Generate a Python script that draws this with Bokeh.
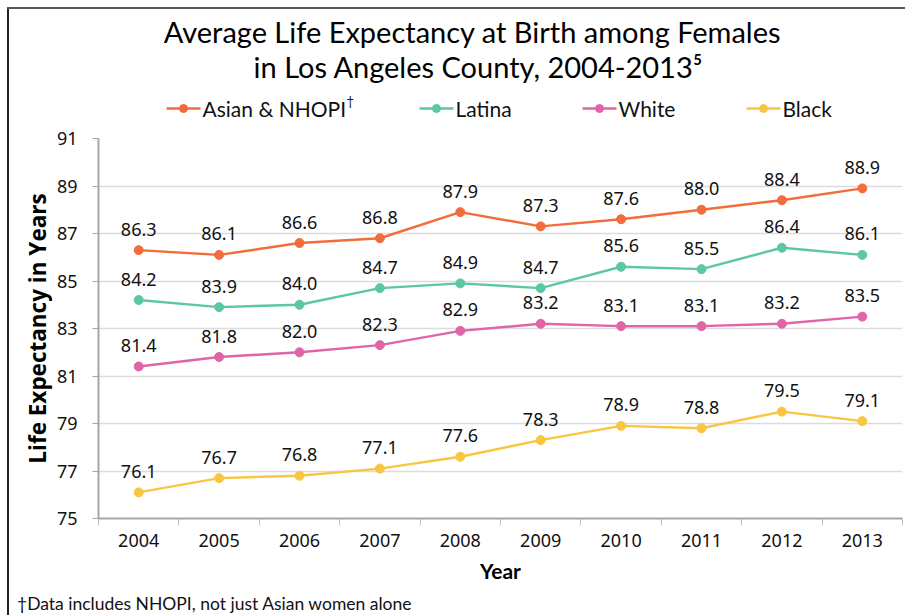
from bokeh.plotting import figure
from bokeh.models import Range1d, FixedTicker, Div
from bokeh.layouts import column
from bokeh.embed import file_html
from bokeh.resources import INLINE
from bokeh.core.properties import value

years = [2004, 2005, 2006, 2007, 2008, 2009, 2010, 2011, 2012, 2013]
asian = [86.3, 86.1, 86.6, 86.8, 87.9, 87.3, 87.6, 88.0, 88.4, 88.9]
latina = [84.2, 83.9, 84.0, 84.7, 84.9, 84.7, 85.6, 85.5, 86.4, 86.1]
white = [81.4, 81.8, 82.0, 82.3, 82.9, 83.2, 83.1, 83.1, 83.2, 83.5]
black = [76.1, 76.7, 76.8, 77.1, 77.6, 78.3, 78.9, 78.8, 79.5, 79.1]
series_names = ["Asian & NHOPI", "Latina", "White", "Black"]
series_values = [asian, latina, white, black]
series_colors = ["#F36C3B", "#5CC7A4", "#E065A7", "#F8C640"]
y_ticks = [75, 77, 79, 81, 83, 85, 87, 89, 91]
title_lines = ["Average Life Expectancy at Birth among Females",
               "in Los Angeles County, 2004-2013\u2075"]
footnote = "\u2020Data includes NHOPI, not just Asian women alone"

TICK_FONT = "Noto Sans"
TITLE_FONT = "Lato"
W = 913
TOP_H = 120
MAIN_H = 465
BOT_H = 30
FL, FR = 98, 902  # frame left/right in page px

# ---- top: title + legend (frame spans FL..FR, y in px from top)
top = figure(width=W, height=TOP_H, output_backend="svg", toolbar_location=None,
             x_axis_type=None, y_axis_type=None,
             x_range=Range1d(FL, FR), y_range=Range1d(TOP_H, 0),
             min_border_left=FL, min_border_right=W - FR, min_border_top=0, min_border_bottom=0)
top.grid.visible = False
top.outline_line_color = None
top.border_fill_color = None
top.background_fill_color = None

top.text([472], [31], text=[title_lines[0]], text_font=value(TITLE_FONT), text_font_size="29px",
         text_color="#000000", text_align="center", text_baseline="middle")
top.text([478], [66], text=[title_lines[1]], text_font=value(TITLE_FONT), text_font_size="29px",
         text_color="#000000", text_align="center", text_baseline="middle")
leg_x = [166, 419, 582, 746]
leg_y = 108
for x0, name, col in zip(leg_x, series_names, series_colors):
    top.line([x0, x0 + 34], [leg_y, leg_y], line_color=col, line_width=2.5)
    top.scatter([x0 + 17], [leg_y], size=8, fill_color=col, line_color=col)
    top.text([x0 + 36], [leg_y], text=[name], text_font=value(TITLE_FONT), text_font_size="21px",
             text_color="#111111", text_align="left", text_baseline="middle")
top.text([346], [100], text=["\u2020"], text_font=value(TITLE_FONT), text_font_size="13px",
         text_color="#111111", text_align="left", text_baseline="middle")

# ---- main chart
p = figure(width=W, height=MAIN_H, output_backend="svg", toolbar_location=None,
           x_range=Range1d(2003.5, 2013.5), y_range=Range1d(75, 91),
           min_border_left=FL, min_border_right=W - FR, min_border_top=18, min_border_bottom=67)
p.outline_line_color = None
p.border_fill_color = None
p.background_fill_color = "white"

p.xaxis.ticker = FixedTicker(ticks=years, minor_ticks=[y - 0.5 for y in years] + [years[-1] + 0.5])
p.xaxis.major_tick_out = 0
p.xaxis.major_tick_in = 0
p.xaxis.minor_tick_out = 7
p.xaxis.minor_tick_in = 0
p.xaxis.minor_tick_line_color = "#bfbfbf"
p.xaxis.axis_line_color = "#a6a6a6"
p.xaxis.axis_line_width = 2
p.xaxis.major_label_text_font = TICK_FONT
p.xaxis.major_label_text_font_size = "18px"
p.xaxis.major_label_text_color = "#111111"
p.xaxis.major_label_standoff = 8
p.xaxis.axis_label = "Year"
p.xaxis.axis_label_text_font = TITLE_FONT
p.xaxis.axis_label_text_font_size = "21px"
p.xaxis.axis_label_text_font_style = "bold"
p.xaxis.axis_label_text_color = "#000000"
p.xaxis.axis_label_standoff = 8

p.yaxis.ticker = FixedTicker(ticks=y_ticks)
p.yaxis.minor_tick_line_color = None
p.yaxis.major_tick_out = 6
p.yaxis.major_tick_in = 0
p.yaxis.major_tick_line_color = "#a6a6a6"
p.yaxis.axis_line_color = "#a6a6a6"
p.yaxis.axis_line_width = 2
p.yaxis.major_label_text_font = TICK_FONT
p.yaxis.major_label_text_font_size = "18px"
p.yaxis.major_label_text_color = "#111111"
p.yaxis.major_label_standoff = 15
p.yaxis.axis_label = "Life Expectancy in Years"
p.yaxis.axis_label_text_font = "Open Sans"
p.yaxis.axis_label_text_font_size = "22.5px"
p.yaxis.axis_label_text_font_style = "bold"
p.yaxis.axis_label_text_color = "#000000"
p.yaxis.axis_label_standoff = 1

p.xgrid.grid_line_color = None
p.ygrid.ticker = FixedTicker(ticks=y_ticks[1:])
p.ygrid.grid_line_color = "#dcdcdc"
p.ygrid.grid_line_width = 1.5

for name, vals, col in zip(series_names, series_values, series_colors):
    p.line(years, vals, line_color=col, line_width=2.5)
    p.scatter(years, vals, size=9, fill_color=col, line_color=col)
    p.text(years, vals, text=[f"{v:.1f}" for v in vals], text_font=value(TICK_FONT),
           text_font_size="18px", text_color="#111111", text_align="center",
           text_baseline="middle", y_offset=-21)

# ---- bottom: footnote
bot = Div(text=f'<div style="margin:0;padding-left:12px;line-height:27px;font-family:Lato;'
               f'font-size:17.5px;color:#111111;white-space:nowrap">{footnote}</div>',
          width=W, height=BOT_H, styles={"overflow": "hidden"})

layout = column(top, p, bot, spacing=0, styles={
    "background-color": "white",
    "background-image": "linear-gradient(#555555, #555555), linear-gradient(#222222, #222222)",
    "background-size": "898px 2px, 2px 608px",
    "background-position": "7px 7px, 7px 7px",
    "background-repeat": "no-repeat",
})

open("out.html", "w").write(file_html(layout, INLINE))
